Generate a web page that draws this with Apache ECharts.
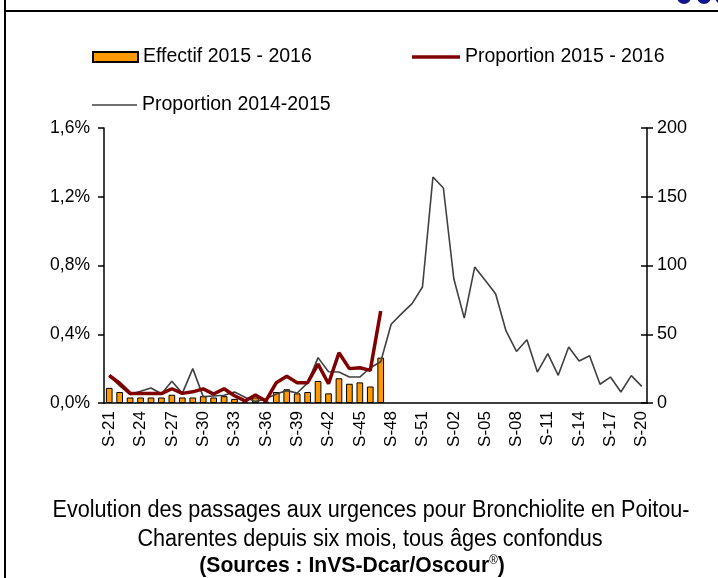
<!DOCTYPE html>
<html>
<head>
<meta charset="utf-8">
<script src="https://cdn.jsdelivr.net/npm/echarts@6/dist/echarts.min.js"></script>
<style>
  html, body { margin: 0; padding: 0; background: #fff; }
  #chart { width: 718px; height: 578px; }
</style>
</head>
<body>
<div id="chart"></div>
<script>
// semaines S-21 ... S-52, S-01 ... S-20
var weeks = [];
for (var w = 21; w <= 52; w++) weeks.push("S-" + w);
for (var w2 = 1; w2 <= 20; w2++) weeks.push("S-" + (w2 < 10 ? "0" + w2 : w2));

// effectif 2015-2016 (axe de droite)
var effectif1516 = [11, 8, 4, 4, 4, 4, 6, 4, 4, 5, 4, 5, 3, 1, 4, 1, 8, 10, 7, 8, 16, 7, 18, 14, 15, 12, 33];

// proportion 2015-2016 (en %)
var proportion1516 = [0.16, 0.115, 0.056, 0.056, 0.056, 0.055, 0.083, 0.056, 0.065, 0.082, 0.052, 0.083, 0.042,
    0.012, 0.047, 0.012, 0.118, 0.155, 0.118, 0.118, 0.226, 0.112, 0.292, 0.2, 0.205, 0.19, 0.535];

// proportion 2014-2015 (en %)
var proportion1415 = [0.16, 0.1, 0.05, 0.068, 0.087, 0.054, 0.127, 0.056, 0.2, 0.037, 0.041, 0.045, 0.064,
    0.033, 0.008, 0.025, 0.052, 0.072, 0.058, 0.117, 0.264, 0.182, 0.18, 0.151, 0.151, 0.205, 0.24, 0.458,
    0.52, 0.578, 0.675, 1.315, 1.251, 0.723, 0.494, 0.791, 0.714, 0.636, 0.419, 0.30, 0.368, 0.18, 0.287,
    0.161, 0.326, 0.244, 0.275, 0.109, 0.151, 0.064, 0.159, 0.097];

var titleLines = [
    "Evolution des passages aux urgences pour Bronchiolite en Poitou-",
    "Charentes depuis six mois, tous âges confondus"
];

var font = "'Liberation Sans', Arial, sans-serif";
var chart = echarts.init(document.getElementById("chart"));

var legendText = { fontFamily: font, fontSize: 19.5, color: "#000" };

var option = {
    backgroundColor: "#fff",
    animation: false,
    grid: { left: 104, right: 71, top: 128, bottom: 175, containLabel: false },
    legend: [{
        data: [{ name: "Effectif 2015 - 2016", icon: "rect" }],
        left: 87, top: 42, itemWidth: 45, itemHeight: 10,
        textStyle: legendText
    }, {
        data: [{ name: "Proportion 2015 - 2016", icon: "rect" }],
        left: 407, top: 42, itemWidth: 48, itemHeight: 3.5,
        textStyle: legendText
    }, {
        data: [{ name: "Proportion 2014-2015", icon: "rect" }],
        left: 87, top: 90, itemWidth: 45, itemHeight: 1.6,
        textStyle: legendText
    }],
    xAxis: {
        type: "category",
        data: weeks,
        boundaryGap: true,
        axisLine: { lineStyle: { color: "#000", width: 1.5 } },
        axisTick: { interval: 0, length: 6, lineStyle: { color: "#000", width: 1.5 } },
        axisLabel: {
            interval: 2, rotate: 90, margin: 8,
            fontFamily: font, fontSize: 17, color: "#000"
        },
        splitLine: { show: false }
    },
    yAxis: [{
        type: "value", min: 0, max: 1.6, interval: 0.4, position: "left",
        axisLine: { show: true, lineStyle: { color: "#000", width: 1.5 } },
        axisTick: { show: true, length: 6, lineStyle: { color: "#000", width: 1.5 } },
        axisLabel: {
            margin: 14, fontFamily: font, fontSize: 17.5, color: "#000",
            formatter: function (v) { return v.toFixed(1).replace(".", ",") + "%"; }
        },
        splitLine: { show: false }
    }, {
        type: "value", min: 0, max: 200, interval: 50, position: "right",
        axisLine: { show: true, lineStyle: { color: "#000", width: 1.5 } },
        axisTick: { show: true, length: 6, lineStyle: { color: "#000", width: 1.5 } },
        axisLabel: { margin: 10, fontFamily: font, fontSize: 18, color: "#000" },
        splitLine: { show: false }
    }, {
        // ticks intérieurs de l'axe de droite
        type: "value", min: 0, max: 200, interval: 50, position: "right",
        axisLine: { show: false },
        axisTick: { show: true, inside: true, length: 6, lineStyle: { color: "#000", width: 1.5 } },
        axisLabel: { show: false },
        splitLine: { show: false }
    }],
    series: [{
        name: "Effectif 2015 - 2016",
        type: "bar",
        yAxisIndex: 1,
        data: effectif1516,
        barWidth: "64%",
        itemStyle: { color: "#FF9900", borderColor: "#000", borderWidth: 1 }
    }, {
        name: "Proportion 2014-2015",
        type: "line",
        yAxisIndex: 0,
        data: proportion1415,
        symbol: "none",
        lineStyle: { color: "#404040", width: 1.6 },
        itemStyle: { color: "#404040" }
    }, {
        name: "Proportion 2015 - 2016",
        type: "line",
        yAxisIndex: 0,
        data: proportion1516,
        symbol: "none",
        lineStyle: { color: "#800000", width: 3.5 },
        itemStyle: { color: "#800000" }
    }],
    graphic: [
        { type: "line", shape: { x1: 5, y1: 0, x2: 5, y2: 578 }, style: { stroke: "#000", lineWidth: 2 } },
        { type: "line", shape: { x1: 5, y1: 11, x2: 718, y2: 11 }, style: { stroke: "#000", lineWidth: 2 } },
        { type: "circle", shape: { cx: 684, cy: -3, r: 7 }, style: { fill: "#14148c" } },
        { type: "circle", shape: { cx: 704, cy: -3, r: 7 }, style: { fill: "#14148c" } },
        { type: "circle", shape: { cx: 722, cy: -3, r: 7 }, style: { fill: "#14148c" } },
        {
            type: "text", x: 371, y: 511, scaleX: 0.94,
            style: {
                text: titleLines[0], font: "23px " + font, fill: "#000",
                align: "center", verticalAlign: "middle"
            }
        },
        {
            type: "text", x: 370, y: 540, scaleX: 0.94,
            style: {
                text: titleLines[1], font: "23px " + font, fill: "#000",
                align: "center", verticalAlign: "middle"
            }
        },
        {
            type: "text", x: 352, y: 566, scaleX: 0.96,
            style: {
                text: "{b|(Sources : InVS-Dcar/Oscour}{s|®}{b|)}",
                align: "center", verticalAlign: "middle",
                rich: {
                    b: { font: "bold 22px " + font, fill: "#000", verticalAlign: "bottom" },
                    s: { font: "12px " + font, fill: "#000", verticalAlign: "top" }
                }
            }
        }
    ]
};
chart.setOption(option);
</script>
</body>
</html>
